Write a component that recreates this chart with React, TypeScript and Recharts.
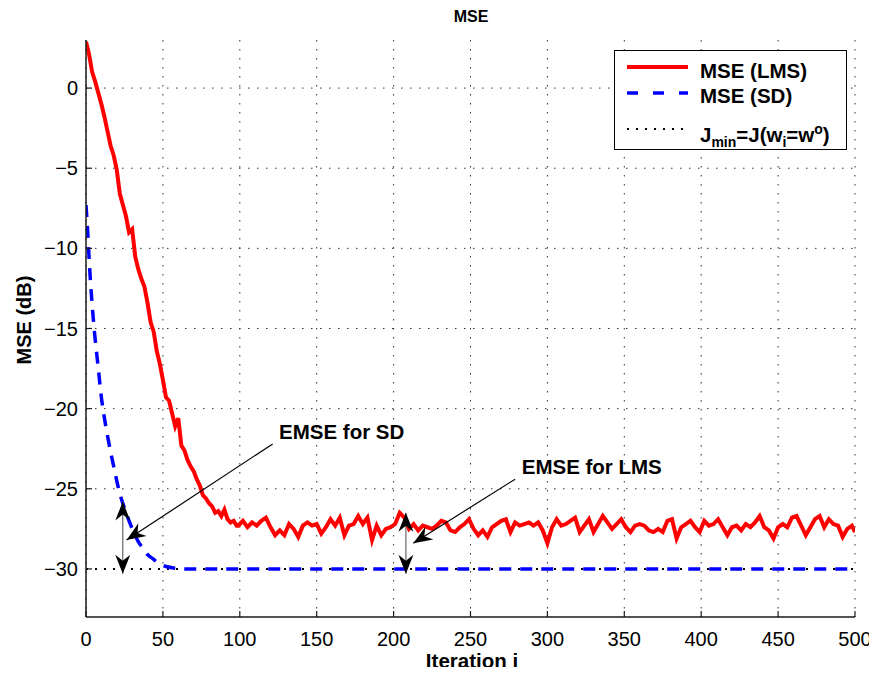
import React from "react";
import {
  LineChart,
  Line,
  XAxis,
  YAxis,
  CartesianGrid,
  ReferenceLine,
  ReferenceDot,
} from "recharts";

// iteration ticks and dB ticks
const iterTicks = [0, 50, 100, 150, 200, 250, 300, 350, 400, 450, 500];
const dbTicks = [-30, -25, -20, -15, -10, -5, 0];

// LMS learning curve: transient part (every 2 iterations)
const lmsHeadIter = [
  0, 2, 4, 6, 8, 10, 12, 14, 16, 18, 20, 22, 24, 26, 28, 30, 32, 34, 36, 38,
  40, 42, 44, 46, 48, 50, 52, 54, 56, 58, 60, 62, 64, 66, 68, 70, 72, 74, 76,
  78, 80, 82, 84, 86, 88, 90, 92, 94, 96, 98,
];
const lmsHead = [
  2.9, 2.1, 1.0, 0.4, -0.3, -1.0, -1.8, -2.7, -3.6, -4.2, -5.1, -6.6, -7.3,
  -8.0, -9.0, -8.8, -10.5, -11.3, -11.9, -12.4, -13.4, -14.6, -15.2, -16.4,
  -17.2, -18.2, -19.3, -19.5, -20.3, -21.1, -20.6, -22.3, -22.6, -23.2, -23.6,
  -23.9, -24.4, -24.8, -25.4, -25.6, -25.9, -26.1, -26.5, -26.4, -26.7, -26.3,
  -26.9, -27.1, -27.0, -27.3,
];
// LMS steady state: iterations 99, 102, ... 498, then 500
const lmsTailStart = 99;
const lmsTailStep = 3;
const lmsTail = [
  -27.3, -27.0, -27.4, -27.1, -27.3, -27.0, -26.8, -27.4, -27.9, -27.6, -27.9,
  -27.2, -27.5, -28.0, -27.3, -27.1, -27.3, -27.2, -27.8, -27.4, -26.9, -27.3,
  -26.8, -27.9, -27.3, -27.2, -26.7, -27.2, -26.8, -28.2, -27.3, -27.9, -27.5,
  -27.4, -27.2, -26.5, -26.8, -27.5, -27.2, -27.6, -27.3, -27.4, -27.5, -27.3,
  -27.0, -27.1, -27.6, -27.7, -27.4, -27.2, -26.9, -27.5, -27.9, -27.6, -28.0,
  -27.4, -27.2, -27.0, -26.9, -27.7, -27.1, -27.3, -27.2, -27.1, -27.3, -27.1,
  -27.6, -28.4, -27.4, -26.9, -27.3, -27.2, -27.0, -26.8, -27.7, -27.3, -26.9,
  -27.7, -27.2, -26.7, -27.1, -27.5, -27.2, -26.9, -27.4, -27.7, -27.3, -27.2,
  -27.3, -27.6, -27.7, -27.5, -27.7, -27.0, -26.9, -28.1, -27.4, -27.2, -27.0,
  -27.4, -27.7, -27.0, -27.3, -27.2, -26.9, -27.4, -27.9, -27.4, -27.3, -27.6,
  -27.2, -27.4, -27.1, -26.7, -27.4, -27.6, -28.1, -27.4, -27.2, -27.4, -26.8,
  -26.7, -27.3, -27.9, -27.4, -26.9, -26.7, -27.4, -26.9, -27.2, -27.3, -28.0,
  -27.5, -27.3,
];
const lmsLast = -27.7;

// steepest descent curve
const sdIter = [
  0, 1, 2, 3, 4, 5, 6, 8, 10, 12, 14, 16, 18, 20, 22, 25, 28, 31, 34, 37, 40,
  44, 48, 52, 56, 60, 65, 70, 500,
];
const sdMse = [
  -7.3, -8.8, -10.6, -12.2, -13.5, -14.7, -15.7, -17.5, -19.3, -20.6, -21.7,
  -22.7, -23.6, -24.5, -25.3, -26.2, -27.0, -27.7, -28.3, -28.7, -29.1, -29.4,
  -29.7, -29.85, -29.93, -29.97, -30.0, -30.0, -30.0,
];

// minimum MSE
const jminIter = [0, 500];
const jminVal = [-30, -30];

const lmsData = [
  ...lmsHeadIter.map((i, k) => ({ i, v: lmsHead[k] })),
  ...lmsTail.map((v, k) => ({ i: lmsTailStart + k * lmsTailStep, v })),
  { i: 500, v: lmsLast },
];
const sdData = sdIter.map((i, k) => ({ i, v: sdMse[k] }));
const jminData = jminIter.map((i, k) => ({ i, v: jminVal[k] }));

const FONT = "'Liberation Sans', Arial, Helvetica, sans-serif";
const fmtDb = (v: number) => (v < 0 ? `\u2212${Math.abs(v)}` : `${v}`);

function head(tx: number, ty: number, fx: number, fy: number) {
  const L = 19;
  const W = 15;
  const N = 13;
  const dx = tx - fx;
  const dy = ty - fy;
  const len = Math.hypot(dx, dy) || 1;
  const ux = dx / len;
  const uy = dy / len;
  const nx = -uy;
  const ny = ux;
  const pts = [
    [tx, ty],
    [tx - L * ux + (W / 2) * nx, ty - L * uy + (W / 2) * ny],
    [tx - N * ux, ty - N * uy],
    [tx - L * ux - (W / 2) * nx, ty - L * uy - (W / 2) * ny],
  ];
  return <polygon points={pts.map((p) => p.join(",")).join(" ")} fill="#000" />;
}

// eslint-disable-next-line @typescript-eslint/no-explicit-any
function ArrowShape(props: any) {
  const { x1, y1, x2, y2, both, stemColor } = props;
  return (
    <g>
      <line x1={x1} y1={y1} x2={x2} y2={y2} stroke={stemColor} strokeWidth={1.2} />
      {head(x2, y2, x1, y1)}
      {both ? head(x1, y1, x2, y2) : null}
    </g>
  );
}

// eslint-disable-next-line @typescript-eslint/no-explicit-any
function NoteText(props: any) {
  const { cx, cy, text } = props;
  return (
    <text x={cx} y={cy} fontFamily={FONT} fontWeight="bold" fontSize={20.5} fill="#000">
      {text}
    </text>
  );
}

export default function App() {
  const tickStyle = { fontSize: 20, fill: "#000", fontFamily: FONT };
  const axisLine = { stroke: "#1a1a1a", strokeWidth: 1.5 };
  const tickLine = { stroke: "#1a1a1a", strokeWidth: 1.2 };

  return (
    <div style={{ position: "relative", width: 869, height: 659, background: "#fff", fontFamily: FONT }}>
      <div
        style={{
          position: "absolute",
          left: 463,
          top: 1,
          transform: "translateX(-50%)",
          fontSize: 16,
          lineHeight: "16px",
          fontWeight: "bold",
        }}
      >
        MSE
      </div>
      <div
        style={{
          position: "absolute",
          left: 16,
          top: 312,
          transform: "translate(-50%, -50%) rotate(-90deg)",
          fontSize: 20,
          lineHeight: "20px",
          fontWeight: "bold",
          whiteSpace: "nowrap",
        }}
      >
        MSE (dB)
      </div>
      <div
        style={{
          position: "absolute",
          left: 464,
          top: 652,
          transform: "translate(-50%, -50%)",
          fontSize: 20.5,
          lineHeight: "21px",
          fontWeight: "bold",
          whiteSpace: "nowrap",
        }}
      >
        Iteration i
      </div>

      <LineChart width={869} height={659} margin={{ top: 32, right: 22, bottom: 0, left: 0 }}>
        <CartesianGrid
          stroke="#333"
          strokeDasharray="1.5 7.5"
          strokeWidth={1}
          horizontalValues={dbTicks}
          verticalValues={iterTicks}
        />
        <XAxis
          dataKey="i"
          type="number"
          domain={[0, 500]}
          ticks={iterTicks}
          interval={0}
          height={50}
          tickSize={-6}
          tickMargin={21}
          tick={tickStyle}
          axisLine={axisLine}
          tickLine={tickLine}
          allowDataOverflow
        />
        <XAxis
          xAxisId="top"
          orientation="top"
          dataKey="i"
          type="number"
          domain={[0, 500]}
          ticks={iterTicks}
          interval={0}
          height={0}
          tickSize={-6}
          tick={false}
          axisLine={axisLine}
          tickLine={tickLine}
          allowDataOverflow
        />
        <YAxis
          type="number"
          domain={[-33, 3]}
          ticks={dbTicks}
          interval={0}
          width={78}
          tickSize={-6}
          tickMargin={14}
          tick={tickStyle}
          tickFormatter={fmtDb}
          axisLine={axisLine}
          tickLine={tickLine}
          allowDataOverflow
        />
        <YAxis
          yAxisId="right"
          orientation="right"
          type="number"
          domain={[-33, 3]}
          ticks={dbTicks}
          interval={0}
          width={0}
          tickSize={-6}
          tick={false}
          axisLine={axisLine}
          tickLine={tickLine}
          allowDataOverflow
        />

        <Line
          data={lmsData}
          dataKey="v"
          type="linear"
          stroke="#ff0000"
          strokeWidth={4}
          dot={false}
          isAnimationActive={false}
        />
        <Line
          data={jminData}
          dataKey="v"
          xAxisId="top"
          yAxisId="right"
          type="linear"
          stroke="#000"
          strokeWidth={2}
          strokeDasharray="2 7"
          dot={false}
          isAnimationActive={false}
        />
        <Line
          data={sdData}
          dataKey="v"
          type="monotone"
          stroke="#0000ff"
          strokeWidth={3.5}
          strokeDasharray="12 9"
          dot={false}
          isAnimationActive={false}
        />

        <ReferenceLine
          segment={[{ x: 121.4, y: -22.2 }, { x: 26.4, y: -28.2 }]}
          shape={(p: any) => <ArrowShape {...p} stemColor="#000" />}
        />
        <ReferenceLine
          segment={[{ x: 23.9, y: -25.8 }, { x: 23.9, y: -30.3 }]}
          shape={(p: any) => <ArrowShape {...p} both stemColor="#666" />}
        />
        <ReferenceLine
          segment={[{ x: 279, y: -24.4 }, { x: 212.8, y: -28.4 }]}
          shape={(p: any) => <ArrowShape {...p} stemColor="#000" />}
        />
        <ReferenceLine
          segment={[{ x: 208, y: -26.5 }, { x: 208, y: -30.3 }]}
          shape={(p: any) => <ArrowShape {...p} both stemColor="#666" />}
        />
        <ReferenceDot x={125.5} y={-21.9} r={0} shape={(p: any) => <NoteText {...p} text="EMSE for SD" />} />
        <ReferenceDot x={283.3} y={-24.1} r={0} shape={(p: any) => <NoteText {...p} text="EMSE for LMS" />} />
      </LineChart>

      <div
        style={{
          position: "absolute",
          left: 606,
          top: 42,
          width: 233,
          height: 100,
          boxSizing: "border-box",
          border: "1.5px solid #000",
          background: "#fff",
          fontWeight: "bold",
          fontSize: 20.5,
        }}
      >
        <svg style={{ position: "absolute", left: 12, top: 0 }} width={62} height={100}>
          <line x1={0} x2={61} y1={16} y2={16} stroke="#ff0000" strokeWidth={4} />
          <line x1={0} x2={61} y1={42} y2={42} stroke="#0000ff" strokeWidth={3.5} strokeDasharray="11 15" />
          <line x1={0} x2={61} y1={78} y2={78} stroke="#000" strokeWidth={2} strokeDasharray="2 7" />
        </svg>
        <div style={{ position: "absolute", left: 85, top: 9, lineHeight: "21px", whiteSpace: "nowrap" }}>
          MSE (LMS)
        </div>
        <div style={{ position: "absolute", left: 85, top: 34, lineHeight: "21px", whiteSpace: "nowrap" }}>
          MSE (SD)
        </div>
        <div style={{ position: "absolute", left: 85, top: 68, lineHeight: "21px", whiteSpace: "nowrap" }}>
          J<sub style={{ fontSize: 14 }}>min</sub>=J(w<sub style={{ fontSize: 14 }}>i</sub>=w
          <sup style={{ fontSize: 14 }}>o</sup>)
        </div>
      </div>
    </div>
  );
}
